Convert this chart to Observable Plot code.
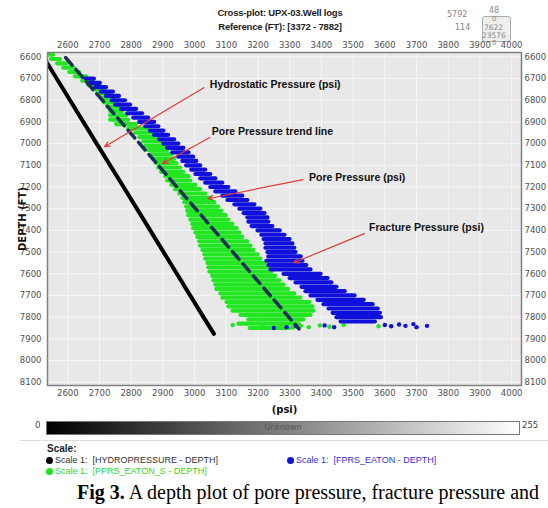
<!DOCTYPE html>
<html>
<head>
<meta charset="utf-8">
<script src="https://cdn.jsdelivr.net/npm/d3@7"></script>
<script src="https://cdn.jsdelivr.net/npm/@observablehq/plot@0.6"></script>
<style>
  html, body { margin: 0; padding: 0; background: #fff; }
  #wrap { position: relative; width: 548px; height: 508px; overflow: hidden; font-family: "Liberation Sans", sans-serif; }
  .abs { position: absolute; white-space: nowrap; }
  .title { left: 180px; width: 200px; text-align: center; font-weight: bold; font-size: 9.5px; color: #222; letter-spacing: -0.2px; }
  .wid { font-family: "DejaVu Sans", sans-serif; font-size: 8px; color: #888; }
  .leg { font-family: "Liberation Sans", sans-serif; font-size: 9px; }
  .dot { display: inline-block; width: 7px; height: 7px; border-radius: 50%; margin-right: 2px; vertical-align: -0.5px; }
</style>
</head>
<body>
<div id="wrap">
  <div class="abs title" style="top:7px">Cross-plot: UPX-03.Well logs</div>
  <div class="abs title" style="top:21px">Reference (FT): [3372 - 7882]</div>

  <div class="abs wid" style="left:447px;top:10px">5792</div>
  <div class="abs wid" style="left:455px;top:23px">114</div>
  <div class="abs wid" style="left:489px;top:6px">48</div>
  <div class="abs" style="left:482px;top:16px;width:27px;height:24px;border:1px solid #aaa;border-radius:3px;background:#eee"></div>
  <div class="abs wid" style="left:492px;top:15px;font-size:7px">0</div>
  <div class="abs wid" style="left:484px;top:23px;font-size:7.5px">7622</div>
  <div class="abs wid" style="left:482px;top:31px;font-size:7.5px">23576</div>
  <div class="abs wid" style="left:492px;top:39px;font-size:7px">0</div>

  <div id="chart" class="abs" style="left:0;top:35px"></div>

  <div class="abs" style="left:35px;top:420px;font-family:'DejaVu Sans';font-size:8.5px;color:#444">0</div>
  <div class="abs" style="left:46px;top:421px;width:472px;height:12px;border:1px solid #777;background:linear-gradient(to right,#000,#fff);text-align:center;font-family:'DejaVu Sans';font-size:8px;line-height:12px;color:#555">Unknown</div>
  <div class="abs" style="left:522px;top:420px;font-family:'DejaVu Sans';font-size:8.5px;color:#444">255</div>
  <div class="abs" style="left:20px;top:440px;width:528px;height:1px;background:#ddd"></div>

  <div class="abs" style="left:47px;top:443px;font-weight:bold;font-size:10px;color:#222">Scale:</div>
  <div class="abs leg" style="left:46px;top:455px;color:#333"><span class="dot" style="background:#000"></span>Scale 1:&nbsp; [HYDROPRESSURE - DEPTH]</div>
  <div class="abs leg" style="left:287px;top:455px;color:#3434c8"><span class="dot" style="background:#1010dc"></span>Scale 1:&nbsp; [FPRS_EATON - DEPTH]</div>
  <div class="abs leg" style="left:46px;top:466px;color:#2fd52f"><span class="dot" style="background:#22e022"></span>Scale 1:&nbsp; [PPRS_EATON_S - DEPTH]</div>

  <div class="abs" style="left:77px;top:482px;font-family:'Liberation Serif',serif;font-size:20px;color:#000;line-height:1"><b>Fig 3.</b> A depth plot of pore pressure, fracture pressure and</div>
</div>
<script>
// ---- tick labels ----
const xTicks = [2600, 2700, 2800, 2900, 3000, 3100, 3200, 3300, 3400, 3500, 3600, 3700, 3800, 3900, 4000];
const yTicks = [6600, 6700, 6800, 6900, 7000, 7100, 7200, 7300, 7400, 7500, 7600, 7700, 7800, 7900, 8000, 8100];

// ---- HYDROPRESSURE - DEPTH (black line) ----
const hydroDepth = [6600, 6800, 7000, 7200, 7400, 7600, 7800, 7877];
const hydroPsi   = [2523, 2607, 2691, 2776, 2860, 2944, 3028, 3061];

// ---- Pore pressure trend line (dashed) ----
const trendDepth = [6603, 7854];
const trendPsi   = [2593, 3329];

// ---- PPRS_EATON_S - DEPTH (green band: per depth row, left & right psi) ----
const greenDepth = [6590, 6610, 6630, 6650, 6670, 6690, 6710, 6730, 6750, 6770,
                    6790, 6810, 6830, 6850, 6870, 6890, 6910, 6930, 6950, 6970,
                    6990, 7010, 7030, 7050, 7070, 7090, 7110, 7130, 7150, 7170,
                    7190, 7210, 7230, 7250, 7270, 7290, 7310, 7330, 7350, 7370,
                    7390, 7410, 7430, 7450, 7470, 7490, 7510, 7530, 7550, 7570,
                    7590, 7610, 7630, 7650, 7670, 7690, 7710, 7730, 7750, 7770,
                    7790, 7810, 7830, 7850];
const greenLo = [2536, 2549, 2568, 2587, 2606, 2624, 2647, 2666, 2681, 2694,
                 2707, 2716, 2726, 2735, 2735, 2735, 2754, 2792, 2814, 2827,
                 2839, 2846, 2855, 2865, 2871, 2880, 2887, 2896, 2909, 2915,
                 2928, 2940, 2953, 2963, 2969, 2975, 2978, 2981, 2988, 2994,
                 2997, 3004, 3010, 3016, 3019, 3026, 3032, 3035, 3042, 3045,
                 3048, 3057, 3061, 3067, 3070, 3083, 3089, 3102, 3108, 3121,
                 3146, 3171, 3140, 3175];
const greenHi = [2555, 2577, 2599, 2621, 2637, 2659, 2681, 2700, 2716, 2729,
                 2745, 2754, 2767, 2773, 2786, 2792, 2817, 2855, 2877, 2887,
                 2896, 2906, 2915, 2928, 2937, 2944, 2956, 2966, 2982, 2988,
                 3004, 3019, 3035, 3051, 3064, 3076, 3086, 3099, 3108, 3121,
                 3134, 3143, 3152, 3168, 3178, 3187, 3200, 3209, 3222, 3231,
                 3244, 3256, 3269, 3282, 3297, 3316, 3335, 3364, 3373, 3376,
                 3367, 3345, 3330, 3300];
const greenStrayPsi   = [3120, 3215, 3250, 3275, 3310, 3335, 3360, 3395, 3425, 3470, 3580];
const greenStrayDepth = [7836, 7842, 7846, 7838, 7848, 7840, 7846, 7838, 7844, 7836, 7842];

// ---- FPRS_EATON - DEPTH (blue band) ----
const blueDepth = [6700, 6720, 6740, 6760, 6780, 6800, 6820, 6840, 6860, 6880,
                   6900, 6920, 6940, 6960, 6980, 7000, 7020, 7040, 7060, 7080,
                   7100, 7120, 7140, 7160, 7180, 7200, 7220, 7240, 7260, 7280,
                   7300, 7320, 7340, 7360, 7380, 7400, 7420, 7440, 7460, 7480,
                   7500, 7520, 7540, 7560, 7580, 7600, 7620, 7640, 7660, 7680,
                   7700, 7720, 7740, 7760, 7780, 7800, 7820];
const blueLo = [2658, 2672, 2688, 2706, 2722, 2740, 2751, 2770, 2789, 2808,
                2827, 2846, 2861, 2874, 2890, 2903, 2915, 2931, 2950, 2963,
                2975, 2991, 3004, 3019, 3035, 3051, 3067, 3089, 3105, 3127,
                3143, 3156, 3168, 3171, 3181, 3200, 3212, 3219, 3225, 3225,
                3231, 3234, 3228, 3234, 3241, 3282, 3301, 3320, 3339, 3351,
                3367, 3389, 3408, 3424, 3437, 3449, 3462];
const blueHi = [2684, 2703, 2722, 2744, 2763, 2782, 2798, 2817, 2836, 2855,
                2874, 2887, 2903, 2918, 2937, 2950, 2966, 2982, 2997, 3007,
                3019, 3035, 3051, 3067, 3089, 3108, 3130, 3152, 3168, 3190,
                3209, 3222, 3231, 3234, 3247, 3270, 3285, 3301, 3310, 3316,
                3320, 3336, 3342, 3354, 3367, 3399, 3421, 3433, 3449, 3475,
                3506, 3535, 3563, 3579, 3586, 3589, 3570];
const blueStrayPsi   = [3250, 3290, 3320, 3410, 3440, 3600, 3620, 3645, 3665, 3690, 3700, 3733];
const blueStrayDepth = [7850, 7846, 7842, 7838, 7846, 7836, 7842, 7834, 7840, 7832, 7846, 7840];

// ---- annotations ----
const annoText  = ["Hydrostatic Pressure (psi)", "Pore Pressure trend line", "Pore Pressure (psi)", "Fracture Pressure (psi)"];
const annoPsi   = [3048, 3054, 3361, 3550];
const annoDepth = [6728, 6945, 7157, 7388];
const arrowFromPsi   = [3029, 3048, 3342, 3535];
const arrowFromDepth = [6742, 6972, 7166, 7415];
const arrowToPsi     = [2716, 2899, 3042, 3313];
const arrowToDepth   = [7014, 7092, 7254, 7549];

// ---- build tables ----
const hydro = hydroDepth.map((d, i) => ({depth: d, psi: hydroPsi[i]}));
const trend = trendDepth.map((d, i) => ({depth: d, psi: trendPsi[i]}));
const green = greenDepth.map((d, i) => ({depth: d, lo: greenLo[i], hi: greenHi[i]}));
const blue  = blueDepth.map((d, i) => ({depth: d, lo: blueLo[i], hi: blueHi[i]}));
const greenStray = greenStrayPsi.map((p, i) => ({psi: p, depth: greenStrayDepth[i]}));
const blueStray  = blueStrayPsi.map((p, i) => ({psi: p, depth: blueStrayDepth[i]}));
const annos = annoText.map((t, i) => ({text: t, psi: annoPsi[i], depth: annoDepth[i],
  x1: arrowFromPsi[i], y1: arrowFromDepth[i], x2: arrowToPsi[i], y2: arrowToDepth[i]}));

const GREEN = "#22e622";
const BLUE = "#1010dc";
const fmt = d => String(d);

const chart = Plot.plot({
  width: 548,
  height: 381,
  marginLeft: 47,
  marginRight: 27,
  marginTop: 17,
  marginBottom: 31,
  style: {fontFamily: "DejaVu Sans, sans-serif", fontSize: "8.5px", color: "#505050", background: "transparent"},
  x: {domain: [2536, 4031]},
  y: {domain: [6580, 8115], reverse: true},
  marks: [
    Plot.frame({fill: "#e8e8e8", stroke: "none"}),
    Plot.gridX(xTicks, {stroke: "#f6f6f6", strokeOpacity: 1}),
    Plot.gridY(yTicks, {stroke: "#f6f6f6", strokeOpacity: 1}),
    Plot.axisX(xTicks, {anchor: "top", tickSize: 0, tickPadding: 5, label: null, tickFormat: fmt}),
    Plot.axisX(xTicks, {anchor: "bottom", tickSize: 0, tickPadding: 4, label: null, tickFormat: fmt}),
    Plot.axisY(yTicks, {anchor: "left", tickSize: 0, tickPadding: 6, label: null, tickFormat: fmt}),
    Plot.axisY(yTicks, {anchor: "right", tickSize: 0, tickPadding: 3, label: null, tickFormat: fmt}),
    Plot.ruleY(green, {y: "depth", x1: "lo", x2: "hi", stroke: GREEN, strokeWidth: 4.2, strokeLinecap: "round", clip: true}),
    Plot.dot(greenStray, {x: "psi", y: "depth", r: 2.2, fill: GREEN, stroke: "none"}),
    Plot.ruleY(blue, {y: "depth", x1: "lo", x2: "hi", stroke: BLUE, strokeWidth: 4.2, strokeLinecap: "round", clip: true}),
    Plot.dot(blueStray, {x: "psi", y: "depth", r: 2.2, fill: BLUE, stroke: "none"}),
    Plot.line(trend, {x: "psi", y: "depth", stroke: "#1c2f58", strokeWidth: 3.5, strokeDasharray: "10,6"}),
    Plot.line(hydro, {x: "psi", y: "depth", stroke: "#000", strokeWidth: 4, clip: true}),
    Plot.arrow(annos, {x1: "x1", y1: "y1", x2: "x2", y2: "y2", stroke: "#e23a3a", strokeWidth: 1.2, headLength: 7, headAngle: 50}),
    Plot.text(annos, {x: "psi", y: "depth", text: "text", textAnchor: "start", fill: "#111", fontWeight: "bold", fontSize: 10.5, fontFamily: "Liberation Sans, sans-serif"}),
    Plot.text(["(psi)"], {frameAnchor: "bottom", dy: 24, lineAnchor: "middle", fontWeight: "bold", fontSize: 10, fill: "#111"}),
    Plot.text(["DEPTH (FT)"], {frameAnchor: "left", rotate: -90, dx: -25, textAnchor: "middle", lineAnchor: "middle", fontWeight: "bold", fontSize: 10, fill: "#111"}),
    Plot.frame({stroke: "#808080", strokeWidth: 1.5})
  ]
});
document.getElementById("chart").appendChild(chart);
</script>
</body>
</html>
